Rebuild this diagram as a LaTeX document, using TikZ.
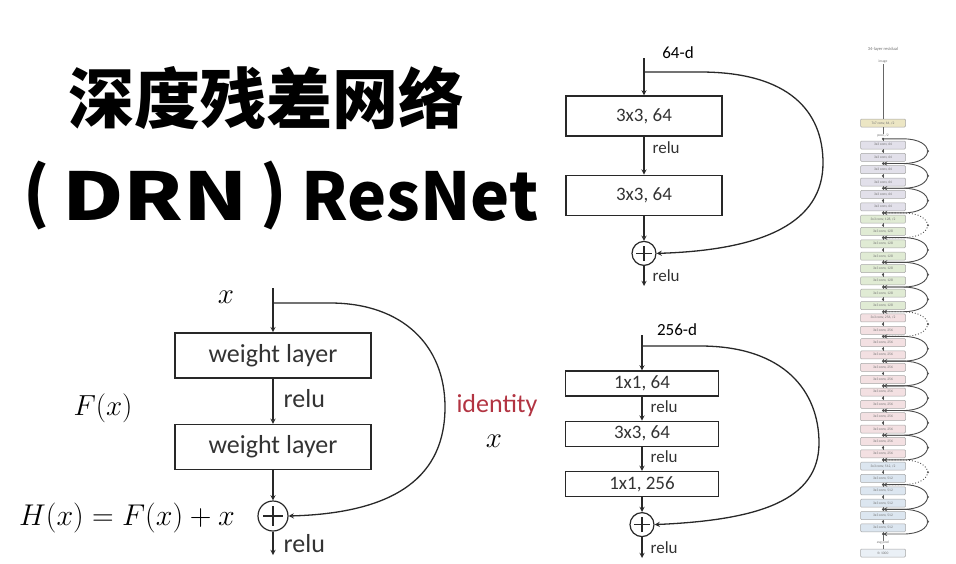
\RequirePackage{fix-cm}
\documentclass[tikz,border=0pt]{standalone}
\usepackage{fontspec}
\setmainfont{Carlito}
\newfontfamily\cjk{Noto Sans CJK SC}
\usepackage{amsmath}
\usetikzlibrary{positioning, shapes.geometric, arrows}

\definecolor{idred}{RGB}{178,52,66}
\definecolor{inkgray}{RGB}{40,40,40}
\definecolor{cfirst}{RGB}{236,230,196}
\definecolor{cA}{RGB}{226,224,234}
\definecolor{cB}{RGB}{224,235,212}
\definecolor{cC}{RGB}{243,224,226}
\definecolor{cD}{RGB}{220,230,240}

\tikzstyle{headline} = [inner sep=0pt, font=\cjk\bfseries\fontsize{66}{70}\selectfont]
\tikzstyle{weight} = [rectangle, minimum width=196pt, minimum height=45pt, text centered, draw=inkgray, line width=1.6pt, font=\fontsize{26}{30}\selectfont, text=black!80]
\tikzstyle{conv} = [rectangle, minimum width=156pt, inner sep=2pt, text centered, draw=inkgray, line width=1.2pt, font=\fontsize{19}{22}\selectfont, text=black!80]
\tikzstyle{arrow} = [line width=1.3pt, draw=inkgray, ->, >=stealth]
\tikzstyle{relu} = [right, inner sep=8pt, text=black!80]
\tikzstyle{tinybox} = [rectangle, rounded corners=1pt, minimum width=45pt, minimum height=8pt, inner sep=0pt, draw=black!35, line width=0.5pt, font=\fontsize{3.6}{4}\selectfont, text=black!55]
\tikzstyle{tinytext} = [inner sep=0.5pt, font=\fontsize{3.6}{4}\selectfont, text=black!55]
\tikzstyle{tinyline} = [line width=0.6pt, draw=black!60]
\tikzstyle{skiparc} = [line width=0.9pt, draw=black!70, ->, >=stealth]
\tikzset{sum/.style={circle, minimum size=#1, inner sep=0pt, draw=inkgray, line width=1.2pt,
  path picture={\draw[line width=1.2pt, inkgray]
    ([xshift=-0.32*#1]path picture bounding box.center) -- ([xshift=0.32*#1]path picture bounding box.center)
    ([yshift=-0.32*#1]path picture bounding box.center) -- ([yshift=0.32*#1]path picture bounding box.center);}}}

\begin{document}
\begin{tikzpicture}[x=1pt, y=-1pt, font=\fontsize{17}{20}\selectfont]
\useasboundingbox (0,0) rectangle (956,563);

% title
\node (title) [headline] at (266,98) {深度残差网络};
\node (lparen) [headline] at (37,196) {(};
\node (drn) [headline] at (155,196) {\scalebox{1.28}[1]{DRN}};
\node (rparen) [headline] at (274,196) {)};
\node (resnet) [headline] at (420,196) {ResNet};

% plain residual block
\coordinate (xin) at (273,288);
\coordinate (xsplit) at (273,303);
\coordinate (outA) at (273,555);
\node (xlab) [font=\fontsize{29}{32}\selectfont] at (226,297) {$x$};
\node (wlayer1) [weight] at (273,355.5) {weight layer};
\node (wlayer2) [weight, below=45pt of wlayer1] {weight layer};
\node (addA) [sum=30pt, below=30pt of wlayer2] {};
\node (Fx) [font=\fontsize{29}{32}\selectfont] at (103,408) {$F(x)$};
\node (Hx) [font=\fontsize{30}{33}\selectfont] at (127,518) {$H(x) = F(x) + x$};
\node (ident) [font=\fontsize{26}{30}\selectfont, text=idred] at (497,406) {identity};
\node (xid) [font=\fontsize{29}{32}\selectfont] at (494,441) {$x$};

\draw [arrow] (xin) -- (wlayer1);
\draw [arrow] (wlayer1) -- node[relu, pos=0.45, inner sep=10pt, font=\fontsize{26}{30}\selectfont] {relu} (wlayer2);
\draw [arrow] (wlayer2) -- (addA);
\draw [arrow] (addA) -- node[relu, pos=0.5, inner sep=10pt, font=\fontsize{26}{30}\selectfont] {relu} (outA);
\draw [arrow] (xsplit) -- (330,303) .. controls (402,303) and (445,345) .. (445,407) .. controls (445,475) and (398,513) .. (addA.east);

% basic block 64-d
\coordinate (inB) at (644,58);
\coordinate (splitB) at (644,72);
\coordinate (outB) at (644,286);
\node (dimB) at (678,53) {64-d};
\node (convB1) [conv, minimum height=40pt] at (644,116) {3x3, 64};
\node (convB2) [conv, minimum height=40pt, below=38pt of convB1] {3x3, 64};
\node (addB) [sum=24pt, below=25pt of convB2] {};

\draw [arrow] (inB) -- (convB1);
\draw [arrow] (convB1) -- node[relu, pos=0.28] {relu} (convB2);
\draw [arrow] (convB2) -- (addB);
\draw [arrow] (addB) -- node[relu, pos=0.46] {relu} (outB);
\draw [arrow] (splitB) -- (700,72) .. controls (790,72) and (823,112) .. (823,163) .. controls (823,222) and (765,250) .. (addB.east);

% bottleneck block 256-d
\coordinate (inC) at (642,335);
\coordinate (splitC) at (642,346);
\coordinate (outC) at (642,558);
\node (dimC) at (677,330) {256-d};
\node (convC1) [conv, minimum height=25pt, minimum width=153pt] at (642,383.5) {1x1, 64};
\node (convC2) [conv, minimum height=25pt, minimum width=153pt, below=24pt of convC1] {3x3, 64};
\node (convC3) [conv, minimum height=25pt, minimum width=153pt, below=24pt of convC2] {1x1, 256};
\node (addC) [sum=24pt, below=15pt of convC3] {};

\draw [arrow] (inC) -- (convC1);
\draw [arrow] (convC1) -- node[relu, pos=0.4] {relu} (convC2);
\draw [arrow] (convC2) -- node[relu, pos=0.4] {relu} (convC3);
\draw [arrow] (convC3) -- (addC);
\draw [arrow] (addC) -- node[relu, pos=0.5] {relu} (outC);
\draw [arrow] (splitC) -- (700,346) .. controls (785,346) and (819,392) .. (819,443) .. controls (819,500) and (760,520) .. (addC.east);

% 34-layer residual net
\node (netname) [tinytext, font=\fontsize{4.5}{5}\selectfont] at (883,49) {34-layer residual};
\node (image) [tinytext] at (883,62) {image};
\node (conv1) [tinybox, fill=cfirst] at (883,123) {7x7 conv, 64, /2};
\node (pool) [tinytext, fill=white] at (883,136) {pool, /2};
\foreach \s/\n/\col/\w/\st in {0/6/cA/64/0, 1/8/cB/128/6, 2/12/cC/256/14, 3/6/cD/512/26}{
  \foreach \k in {1,...,\n}{
    \pgfmathtruncatemacro{\idx}{\st+\k-1}
    \def\lab{3x3 conv, \w}
    \ifnum\k=1 \ifnum\s>0 \def\lab{3x3 conv, \w, /2}\fi\fi
    \node (c\idx) [tinybox, fill=\col] at (883,{145+12.35*\idx}) {\lab};
  }
}
\node (avgpool) [tinytext, fill=white] at (883,543) {avg pool};
\node (fc) [tinybox, fill=cD!60] at (883,553) {fc 1000};

\draw [tinyline] (image) -- (conv1);
\draw [tinyline] (conv1) -- (pool);
\draw [tinyline] (pool) -- (c0);
\foreach \i [evaluate=\i as \j using int(\i+1)] in {0,...,30}
  \draw [tinyline] (c\i) -- (c\j);
\draw [tinyline] (c31) -- (avgpool);
\draw [tinyline] (avgpool) -- (fc);

\foreach \i in {0,...,32}
  \coordinate (j\i) at (883,{145+12.35*\i-6.175});
\foreach \i in {0,...,32}
  \fill [black!70] (j\i) circle (1.2);

\foreach \b [evaluate=\b as \ta using int(2*\b), evaluate=\b as \tm using int(2*\b+1), evaluate=\b as \tb using int(2*\b+2)] in {0,1,2,4,5,6,8,9,10,11,12,14,15}{
  \draw [skiparc] (j\ta) -- ([xshift=20pt]j\ta) to[out=0,in=0,looseness=3.4] ([xshift=20pt]j\tb) -- (j\tb);
  \fill [black!65] ([xshift=45pt]j\tm) circle (1.2);
}
\foreach \b [evaluate=\b as \ta using int(2*\b), evaluate=\b as \tm using int(2*\b+1), evaluate=\b as \tb using int(2*\b+2)] in {3,7,13}{
  \draw [skiparc, dotted] (j\ta) -- ([xshift=20pt]j\ta) to[out=0,in=0,looseness=3.4] ([xshift=20pt]j\tb) -- (j\tb);
  \fill [black!65] ([xshift=45pt]j\tm) circle (1.2);
}

\end{tikzpicture}
\end{document}
